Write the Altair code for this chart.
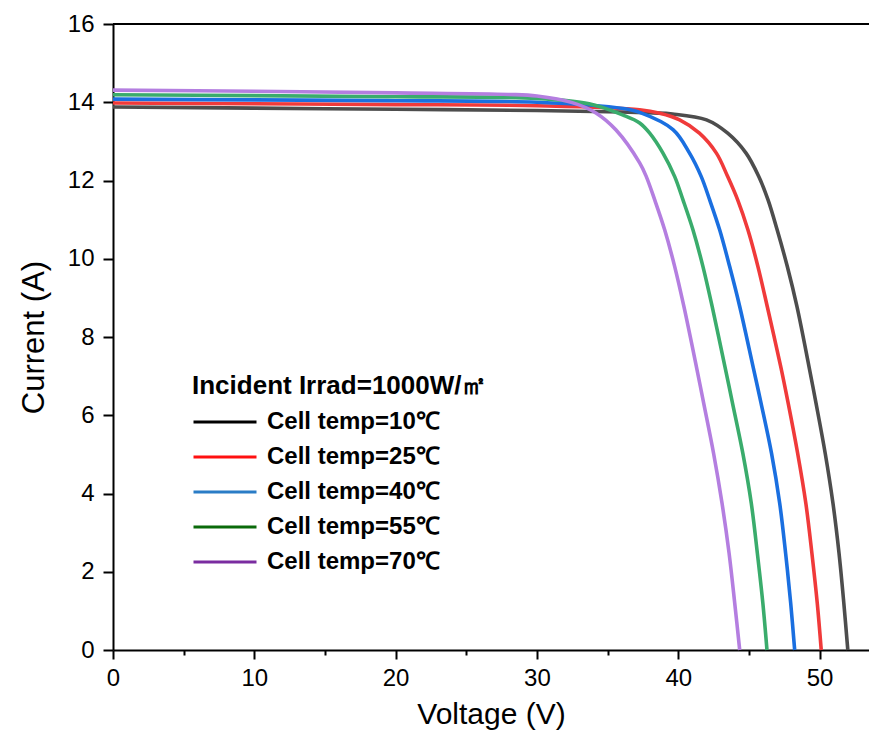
import altair as alt
import pandas as pd

# ---- data ----
series = ["Cell temp=10℃", "Cell temp=25℃", "Cell temp=40℃", "Cell temp=55℃", "Cell temp=70℃"]

v10 = [0, 10, 20, 30, 36, 39.6, 42.0, 43.5, 44.8, 45.7, 46.35, 47.0, 47.72, 48.4, 49.25, 49.75, 50.4, 50.95, 51.38, 51.72, 52.0]
i10 = [13.88, 13.85, 13.82, 13.79, 13.75, 13.70, 13.55, 13.21, 12.70, 12.10, 11.51, 10.74, 9.80, 8.78, 7.25, 6.31, 5.03, 3.75, 2.47, 1.19, 0.0]

v25 = [0, 10, 20, 30, 37.27, 38.7, 40.1, 41.5, 42.7, 43.5, 44.2, 44.93, 45.64, 46.3, 47.25, 47.78, 48.45, 49.03, 49.46, 49.84, 50.12]
i25 = [13.98, 13.96, 13.94, 13.91, 13.81, 13.72, 13.55, 13.21, 12.70, 12.10, 11.51, 10.74, 9.80, 8.78, 7.25, 6.31, 5.03, 3.75, 2.47, 1.19, 0.0]

v40 = [0, 10, 20, 30, 36.1, 37.27, 39.63, 40.8, 41.63, 42.22, 42.93, 43.64, 44.35, 45.29, 45.86, 46.6, 47.18, 47.6, 47.96, 48.24]
i40 = [14.08, 14.06, 14.04, 14.0, 13.84, 13.74, 13.30, 12.70, 12.10, 11.51, 10.74, 9.80, 8.78, 7.25, 6.31, 5.03, 3.75, 2.47, 1.19, 0.0]

v55 = [0, 10, 20, 30, 33.7, 36.1, 37.27, 37.98, 38.92, 39.75, 40.33, 41.04, 41.75, 42.4, 43.3, 43.84, 44.57, 45.17, 45.6, 45.99, 46.28]
i55 = [14.19, 14.17, 14.14, 14.1, 13.96, 13.67, 13.47, 13.21, 12.70, 12.10, 11.51, 10.74, 9.80, 8.78, 7.25, 6.31, 5.03, 3.75, 2.47, 1.19, 0.0]

v70 = [0, 10, 20, 28, 30, 32.5, 34.2, 35.6, 37.27, 37.74, 38.33, 39.04, 39.75, 40.4, 41.28, 41.8, 42.5, 43.1, 43.6, 44.0, 44.35]
i70 = [14.31, 14.28, 14.24, 14.2, 14.16, 13.99, 13.72, 13.29, 12.45, 12.10, 11.51, 10.74, 9.80, 8.78, 7.25, 6.31, 5.03, 3.75, 2.47, 1.19, 0.0]

x_ticks = [0, 5, 10, 15, 20, 25, 30, 35, 40, 45, 50]
y_ticks = list(range(0, 17))

legend_title = "Incident Irrad=1000W/㎡"

# ---- styles ----
curve_colors = ["#4d4d4d", "#f03a3a", "#1a6fe0", "#3aac6c", "#b47ee0"]
legend_colors = ["#000000", "#ff1010", "#2a7cc6", "#0a6a0a", "#7a2ca0"]
FONT = "Liberation Sans"
INTERP = "catmull-rom"

rows = []
for name, vs, cs in zip(series, [v10, v25, v40, v55, v70], [i10, i25, i40, i55, i70]):
    for v, c in zip(vs, cs):
        rows.append({"V": v, "I": c, "series": name})
df = pd.DataFrame(rows)

x_enc = alt.X(
    "V:Q",
    scale=alt.Scale(domain=[0, 53.5], nice=False, zero=False),
    axis=alt.Axis(
        title="Voltage (V)",
        values=x_ticks,
        labelExpr="datum.value % 10 === 0 ? datum.label : ''",
        tickSize={"condition": {"test": "datum.value % 10 !== 0", "value": 5}, "value": 9},
        labelPadding=7,
        titlePadding=9,
        titleFontSize=30,
        labelFlush=False,
        labelOverlap=False,
    ),
)
y_enc = alt.Y(
    "I:Q",
    scale=alt.Scale(domain=[0, 16], nice=False, zero=True),
    axis=alt.Axis(
        title="Current (A)",
        values=y_ticks,
        labelExpr="datum.value % 2 === 0 ? datum.label : ''",
        tickSize={"condition": {"test": "datum.value % 2 !== 0", "value": 5}, "value": 10},
        labelPadding=9,
        titlePadding=17,
        labelOverlap=False,
    ),
)

legend_layer = alt.Chart(df).mark_line(strokeWidth=0.3, interpolate=INTERP).encode(
    x=x_enc,
    y=y_enc,
    color=alt.Color(
        "series:N",
        scale=alt.Scale(domain=series, range=legend_colors),
        legend=alt.Legend(
            title=legend_title,
            orient="none",
            legendX=79,
            legendY=349,
            direction="vertical",
            padding=0,
            titleFont=FONT,
            titleFontSize=26,
            titleFontWeight="bold",
            titleColor="black",
            titleLimit=1000,
            titlePadding=11,
            labelFont=FONT,
            labelFontSize=24,
            labelFontWeight="bold",
            labelColor="black",
            labelLimit=1000,
            labelOffset=9,
            symbolType="stroke",
            symbolSize=3969,
            symbolStrokeWidth=3,
            clipHeight=24,
            rowPadding=11,
        ),
    ),
)

curves = alt.Chart(df).mark_line(strokeWidth=3.6, interpolate=INTERP).encode(
    x=x_enc,
    y=y_enc,
    color=alt.Color("series:N", scale=alt.Scale(domain=series, range=curve_colors), legend=None),
)

top_rule = alt.Chart(pd.DataFrame({"top": [16]})).mark_rule(color="black", strokeWidth=2).encode(
    y=alt.Y("top:Q")
)

chart = (
    alt.layer(legend_layer, curves, top_rule)
    .resolve_scale(color="independent")
    .properties(
        width=756,
        height=626,
        padding={"left": 105, "top": 16, "right": 0, "bottom": 80},
        autosize=alt.AutoSizeParams(type="none"),
        background="white",
    )
    .configure_view(stroke=None)
    .configure_axis(
        grid=False,
        domainColor="black",
        domainWidth=2,
        tickColor="black",
        tickWidth=2,
        labelColor="black",
        labelFont=FONT,
        labelFontSize=24,
        titleFont=FONT,
        titleFontSize=31,
        titleFontWeight="normal",
        titleColor="black",
    )
)

chart.save("out.html", embed_options={"renderer": "svg", "actions": False})
